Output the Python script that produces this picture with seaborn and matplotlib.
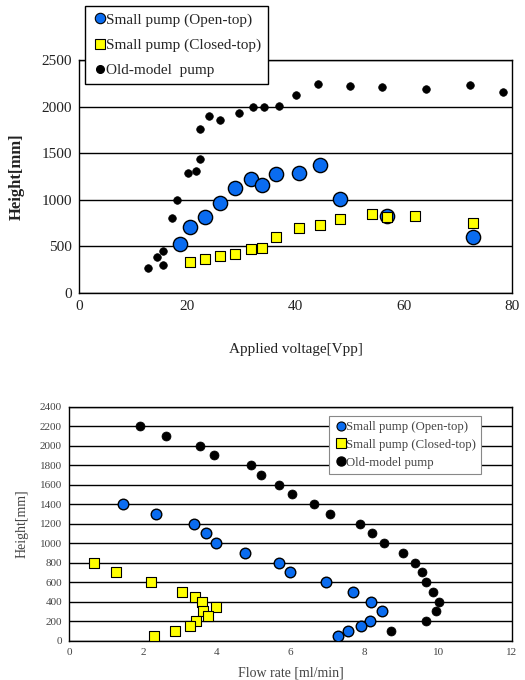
import numpy as np
import pandas as pd
import matplotlib
matplotlib.use("Agg")
import matplotlib.pyplot as plt
from matplotlib.lines import Line2D
import seaborn as sns

# ---------------------------------------------------------------------------
# DATA - top chart: height vs applied voltage
# ---------------------------------------------------------------------------
open_v = [18.7, 20.5, 23.3, 26.1, 28.9, 31.7, 33.9, 36.4, 40.6, 44.6, 48.3, 56.9, 72.8]
open_h = [525, 704, 811, 971, 1125, 1225, 1161, 1275, 1286, 1371, 1007, 821, 600]

closed_v = [20.5, 23.3, 26.1, 28.9, 31.7, 33.9, 36.4, 40.6, 44.6, 48.3, 54.1, 56.9, 62.1, 72.8]
closed_h = [336, 361, 396, 418, 471, 482, 596, 693, 732, 793, 846, 814, 825, 754]

old_v = [12.8, 14.4, 15.6, 15.6, 17.1, 18.1, 20.1, 21.6, 22.4, 22.4, 24.1, 26.1,
         29.6, 32.1, 34.1, 36.9, 40.1, 44.1, 50.1, 56.0, 64.2, 72.3, 78.3]
old_h = [264, 382, 454, 296, 804, 1000, 1286, 1314, 1436, 1764, 1904, 1857,
         1929, 1993, 1993, 2007, 2129, 2243, 2221, 2214, 2186, 2229, 2154]

# ---------------------------------------------------------------------------
# DATA - bottom chart: height vs flow rate
# ---------------------------------------------------------------------------
open_q = [1.45, 2.37, 3.39, 3.72, 3.98, 4.76, 5.70, 5.99, 6.96, 7.70, 8.17, 8.49,
          8.14, 7.90, 7.56, 7.28]
open_qh = [1400, 1300, 1200, 1100, 1000, 900, 800, 700, 600, 500, 400, 300,
           200, 150, 100, 50]

closed_q = [0.69, 1.26, 2.22, 3.05, 3.40, 3.59, 3.98, 3.63, 3.77, 3.45, 3.29, 2.86, 2.30]
closed_qh = [800, 700, 600, 500, 450, 400, 350, 300, 250, 200, 150, 100, 50]

old_q = [1.92, 2.64, 3.56, 3.93, 4.92, 5.19, 5.69, 6.03, 6.63, 7.07, 7.87, 8.22,
         8.54, 9.06, 9.38, 9.56, 9.67, 9.87, 10.03, 9.95, 9.67, 8.72]
old_qh = [2200, 2100, 2000, 1900, 1800, 1700, 1600, 1500, 1400, 1300, 1200, 1100,
          1000, 900, 800, 700, 600, 500, 400, 300, 200, 100]

LABELS = ["Small pump (Open-top)", "Small pump (Closed-top)", "Old-model  pump"]
LABELS_BOTTOM = ["Small pump (Open-top)", "Small pump (Closed-top)", "Old-model pump"]
BLUE = "#0a6cf0"
YELLOW = "#ffff00"

sns.set_theme(style="white")
plt.rcParams["font.family"] = ["Liberation Serif", "DejaVu Serif"]

fig = plt.figure(figsize=(5.25, 6.8), dpi=100)
ax1 = fig.add_axes([79 / 525, 1 - 293 / 680, 433 / 525, 233 / 680])
ax2 = fig.add_axes([69 / 525, 1 - 640.7 / 680, 443 / 525, 234 / 680])


def style_axes(ax, xlim, ylim, yticks, xticks, fs, tcolor):
    ax.set_xlim(*xlim)
    ax.set_ylim(*ylim)
    ax.set_xticks(xticks)
    ax.set_yticks(yticks)
    ax.grid(axis="y", color="black", linewidth=1.0)
    ax.grid(axis="x", visible=False)
    ax.set_axisbelow(True)
    for sp in ax.spines.values():
        sp.set_color("black")
        sp.set_linewidth(1.0)
    ax.tick_params(axis="both", length=0, labelsize=fs, colors=tcolor, pad=5)


def legend_handles(sizes):
    # small legend markers, like the original
    return [
        Line2D([], [], linestyle="none", marker="o", markersize=sizes[0],
               markerfacecolor=BLUE, markeredgecolor="black", markeredgewidth=0.8),
        Line2D([], [], linestyle="none", marker="s", markersize=sizes[1],
               markerfacecolor=YELLOW, markeredgecolor="black", markeredgewidth=0.8),
        Line2D([], [], linestyle="none", marker="o", markersize=sizes[2],
               markerfacecolor="black", markeredgecolor="black"),
    ]


# ---------------------------------------------------------------------------
# TOP CHART
# ---------------------------------------------------------------------------
sns.scatterplot(x=old_v, y=old_h, ax=ax1, color="black", marker="o", s=30,
                edgecolor="black", linewidth=0.5, zorder=3)
sns.scatterplot(x=open_v, y=open_h, ax=ax1, color=BLUE, marker="o", s=105,
                edgecolor="black", linewidth=1.0, zorder=4)
sns.scatterplot(x=closed_v, y=closed_h, ax=ax1, color=YELLOW, marker="s", s=55,
                edgecolor="black", linewidth=0.8, zorder=5)

style_axes(ax1, (0, 80), (0, 2500), np.arange(0, 2501, 500), np.arange(0, 81, 20),
           11, "#222222")
ax1.set_xlabel("Applied voltage[Vpp]", fontsize=11, color="#222222", labelpad=22)
ax1.set_ylabel("Height[mm]", fontsize=12, fontweight="bold", color="#222222", labelpad=12)

leg1 = fig.legend(legend_handles([7.5, 7, 5.5]), LABELS, loc="upper left",
                  bbox_to_anchor=(85 / 525, 1 - 6 / 680), frameon=True,
                  fancybox=False, edgecolor="black", fontsize=11,
                  handletextpad=-0.1, borderpad=0.45, labelspacing=0.75,
                  handlelength=1.0, borderaxespad=0, framealpha=1)
leg1.get_frame().set_linewidth(1.0)
leg1.set_zorder(10)

# ---------------------------------------------------------------------------
# BOTTOM CHART
# ---------------------------------------------------------------------------
sns.scatterplot(x=open_q, y=open_qh, ax=ax2, color=BLUE, marker="o", s=58,
                edgecolor="black", linewidth=1.0, zorder=4)
sns.scatterplot(x=closed_q, y=closed_qh, ax=ax2, color=YELLOW, marker="s", s=48,
                edgecolor="black", linewidth=0.8, zorder=5)
sns.scatterplot(x=old_q, y=old_qh, ax=ax2, color="black", marker="o", s=42,
                edgecolor="black", linewidth=0.5, zorder=3)

style_axes(ax2, (0, 12), (0, 2400), np.arange(0, 2401, 200), np.arange(0, 13, 2),
           8, "#444444")
ax2.set_xlabel("Flow rate [ml/min]", fontsize=10, color="#444444", labelpad=7)
ax2.set_ylabel("Height[mm]", fontsize=10, color="#444444", labelpad=8)

leg2 = ax2.legend(legend_handles([6.5, 6.5, 6.5]), LABELS_BOTTOM, loc="upper left",
                  bbox_to_anchor=((329 - 69) / 443, 1 - (416 - 406.7) / 234),
                  frameon=True, fancybox=False, edgecolor="#888888", fontsize=9.2,
                  handletextpad=-0.1, borderpad=0.4, labelspacing=0.45,
                  handlelength=1.0, borderaxespad=0, framealpha=1)
for t in leg2.get_texts():
    t.set_color("#444444")
leg2.get_frame().set_linewidth(0.8)

fig.savefig("out.png", dpi=100)
